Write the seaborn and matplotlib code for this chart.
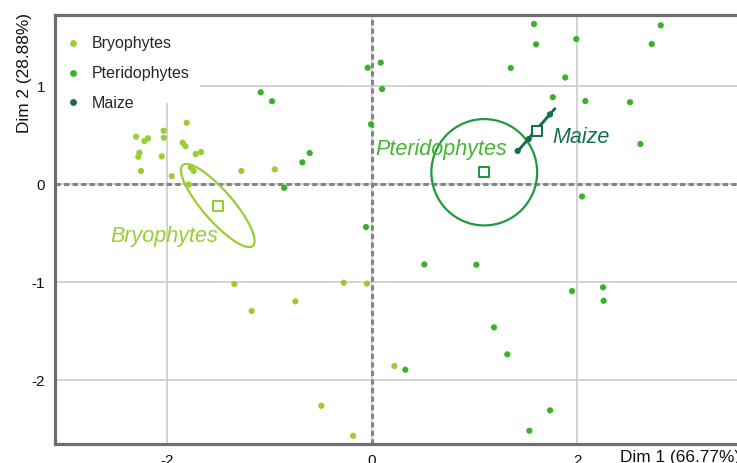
import numpy as np
import pandas as pd
import matplotlib
matplotlib.use("Agg")
import matplotlib.pyplot as plt
from matplotlib.patches import Ellipse, Rectangle
import seaborn as sns

# ---------------- data ----------------
groups = ["Bryophytes", "Pteridophytes", "Maize"]

bryo_x = [-2.302, -2.270, -2.280, -2.221, -2.185, -2.254, -2.032, -2.032, -2.052, -1.808,
          -1.847, -1.821, -1.720, -1.668, -1.954, -1.769, -1.740, -1.787, -1.275, -0.949,
          -1.343, -1.174, -0.748, -0.276, -0.049, 0.218, -0.495, -0.185]
bryo_y = [0.484, 0.321, 0.280, 0.440, 0.468, 0.135, 0.545, 0.474, 0.284, 0.627,
          0.423, 0.389, 0.308, 0.328, 0.081, 0.172, 0.135, -0.003, 0.135, 0.152,
          -1.017, -1.293, -1.194, -1.004, -1.014, -1.853, -2.258, -2.564]

pter_x = [-1.086, -0.976, -0.680, -0.608, -0.857, -0.042, 0.085, 0.098, -0.010, -0.059,
          1.353, 1.580, 1.600, 1.993, 2.817, 2.729, 1.885, 1.764, 2.081, 2.517,
          2.618, 2.049, 0.510, 1.018, 1.951, 2.254, 2.260, 1.190, 1.320, 0.325,
          1.737, 1.535]
pter_y = [0.937, 0.846, 0.223, 0.318, -0.036, 1.188, 1.239, 0.970, 0.611, -0.436,
          1.185, 1.633, 1.426, 1.480, 1.620, 1.429, 1.088, 0.887, 0.848, 0.836,
          0.410, -0.125, -0.817, -0.821, -1.089, -1.051, -1.188, -1.459, -1.734, -1.891,
          -2.305, -2.513]

maize_x = [1.421, 1.529, 1.737]
maize_y = [0.339, 0.461, 0.712]

# group centres (hollow squares)
center_x = [-1.505, 1.095, 1.610]
center_y = [-0.217, 0.122, 0.542]

# confidence ellipses: semi-axes and angle (degrees)
ell_a = [0.535, 0.516, 0.287]
ell_b = [0.15, 0.542, 0.004]
ell_angle = [-50.5, 0.0, 50.0]
ell_cx = [-1.505, 1.095, 1.605]
ell_cy = [-0.217, 0.122, 0.557]

# group label anchors
label_x = [-2.029, 0.673, 2.036]
label_y = [-0.586, 0.298, 0.420]

xlabel = "Dim 1 (66.77%)"
ylabel = "Dim 2 (28.88%)"
xticks = [-2, 0, 2]
yticks = [-2, -1, 0, 1]

# ---------------- styling ----------------
colors = {"Bryophytes": "#9ACD32", "Pteridophytes": "#3AB02C", "Maize": "#14704A"}
ell_colors = {"Bryophytes": "#9ACD32", "Pteridophytes": "#21993F", "Maize": "#14704A"}
label_colors = {"Bryophytes": "#9ACD32", "Pteridophytes": "#45B52F", "Maize": "#14704A"}

sns.set_theme(style="white")
plt.rcParams["font.family"] = ["Liberation Sans", "DejaVu Sans"]
plt.rcParams["axes.unicode_minus"] = False

df = pd.DataFrame({
    "x": bryo_x + pter_x + maize_x,
    "y": bryo_y + pter_y + maize_y,
    "group": [groups[0]] * len(bryo_x) + [groups[1]] * len(pter_x) + [groups[2]] * len(maize_x),
})

fig = plt.figure(figsize=(7.37, 4.63), dpi=100)
ax = fig.add_axes([55 / 737, 1 - 444 / 463, 685 / 737, 429 / 463])

ax.set_xlim(-3.093, 3.590)
ax.set_ylim(-2.648, 1.725)

# grid
ax.set_xticks(xticks)
ax.set_yticks(yticks)
ax.grid(True, color="#cccccc", linewidth=1.2, zorder=0)
ax.set_axisbelow(True)

# dashed reference lines
ax.axhline(0, color="#858585", linewidth=2.2, linestyle=(0, (1.7, 1.1)), zorder=1)
ax.axvline(0, color="#858585", linewidth=2.2, linestyle=(0, (1.7, 1.1)), zorder=1)

# white backdrop behind legend
ax.add_patch(Rectangle((0, 0.795), 0.2117, 0.3, transform=ax.transAxes,
                       facecolor="white", edgecolor="none", zorder=1.5))

# ellipses
for i, g in enumerate(groups):
    e = Ellipse((ell_cx[i], ell_cy[i]), 2 * ell_a[i], 2 * ell_b[i], angle=ell_angle[i],
                facecolor="none", edgecolor=ell_colors[g], linewidth=1.6, zorder=2)
    ax.add_patch(e)

# points
sns.scatterplot(data=df, x="x", y="y", hue="group", hue_order=groups,
                palette=colors, s=20, linewidth=0, ax=ax, zorder=3, legend=True)

# centres
for i, g in enumerate(groups):
    ax.scatter([center_x[i]], [center_y[i]], marker="s", s=42, facecolor="white",
               edgecolor=ell_colors[g], linewidth=1.5, zorder=4)

# group labels
for i, g in enumerate(groups):
    ax.text(label_x[i], label_y[i], g, color=label_colors[g], fontsize=15.5,
            fontstyle="italic", ha="center", va="baseline", zorder=5)

# legend
handles, labels = ax.get_legend_handles_labels()
leg = ax.legend(handles, labels, loc="upper left", bbox_to_anchor=(0.015, 0.950),
                frameon=False, fontsize=11.5, handlelength=1.0, handletextpad=0.65,
                labelspacing=0.92, borderpad=0, borderaxespad=0, markerscale=1.1)
leg.set_zorder(6)

# spines
for side in ["left", "top", "bottom"]:
    ax.spines[side].set_color("#6e6e6e")
    ax.spines[side].set_linewidth(2.3)
ax.spines["right"].set_visible(False)

ax.tick_params(axis="both", length=0, labelsize=11, colors="#111111", pad=7)
ax.set_xlabel(xlabel, fontsize=12.4, loc="right", color="#111111")
ax.set_ylabel(ylabel, fontsize=12.4, loc="top", color="#111111")
ax.xaxis.set_label_coords(1.0, -0.014)
ax.yaxis.set_label_coords(-0.034, 1.005)

fig.savefig("out.png", dpi=100)
